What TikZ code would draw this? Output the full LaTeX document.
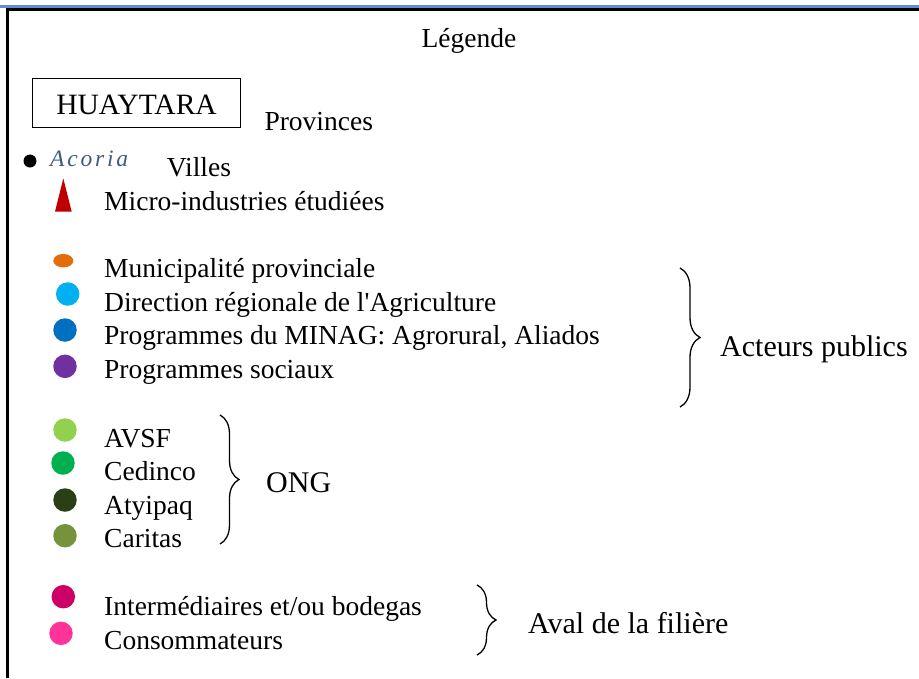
\documentclass[tikz,border=0pt]{standalone}
\usepackage{fontspec}
\setmainfont{Liberation Serif}
\usetikzlibrary{decorations.pathreplacing, shapes.geometric}

\definecolor{frameblue}{HTML}{5B8FD6}
\definecolor{townblue}{HTML}{3F5A80}
\definecolor{microred}{HTML}{C00000}
\definecolor{muniorange}{HTML}{E46C0A}
\definecolor{drablue}{HTML}{00B0F0}
\definecolor{minagblue}{HTML}{0070C0}
\definecolor{socpurple}{HTML}{7030A0}
\definecolor{avsfgreen}{HTML}{92D050}
\definecolor{cedincogreen}{HTML}{00B050}
\definecolor{atyipaqgreen}{HTML}{2A4014}
\definecolor{caritasgreen}{HTML}{76923C}
\definecolor{intercrimson}{HTML}{CC0066}
\definecolor{conspink}{HTML}{FF3399}

\begin{document}
\begin{tikzpicture}[x = 1pt, y = -1pt,
	txt/.style = {anchor = base west, inner sep = 0pt, font = \fontsize{27.5}{30}\selectfont},
	grp/.style = {anchor = base west, inner sep = 0pt, font = \fontsize{30}{34}\selectfont},
	dot/.style = {circle, inner sep = 0pt, minimum size = 23.5pt},
	curly/.style = {decorate, decoration = {brace, amplitude = 20pt}, line width = 1.3pt}]

	\useasboundingbox (0, 0) rectangle (919, 678);

	% Frame
	
	\draw [frameblue, line width = 3pt] (0, 6) -- (919, 6);
	\draw [line width = 2.5pt] (7.5, 678) -- (7.5, 9.5) -- (919, 9.5);

	\node [txt, anchor = base] (title) at (469, 47) {Légende};

	% Provinces, villes, micro-industries
	
	\node [draw, line width = 0.8pt, minimum width = 208pt, minimum height = 49pt, inner sep = 0pt,
		text height = 24pt, text depth = 0pt, font = \fontsize{29.5}{30}\selectfont] (huaytara) at (136.5, 102.8) {HUAYTARA};
	\node [txt] (provinces) at (264.3, 130) {Provinces};
	
	\node [dot, fill = black, minimum size = 13pt] (acoria-dot) at (30, 161) {};
	\node [txt, text = townblue, font = \fontsize{23.5}{26}\itshape\addfontfeature{LetterSpace = 12}] (acoria) at (50, 166) {Acoria};
	\node [txt] (villes) at (166.7, 176) {Villes};
	
	\fill [microred] (63.3, 178.3) -- (71.7, 211.7) -- (55, 211.7) -- cycle;
	\node [txt] (micro) at (104, 210) {Micro-industries étudiées};

	% Acteurs publics
	
	\node [ellipse, inner sep = 0pt, minimum width = 20pt, minimum height = 13.5pt, fill = muniorange] (muni-dot) at (63.3, 260.7) {};
	\node [dot, fill = drablue] (dra-dot) at (67.7, 294) {};
	\node [dot, fill = minagblue] (minag-dot) at (65, 330) {};
	\node [dot, fill = socpurple] (soc-dot) at (65, 366.3) {};
	
	\node [txt] (muni) at (104, 277) {Municipalité provinciale};
	\node [txt] (dra) at (104, 311) {Direction régionale de l\textquotesingle Agriculture};
	\node [txt] (minag) at (104, 344.5) {Programmes du MINAG: Agrorural, Aliados};
	\node [txt] (soc) at (104, 378) {Programmes sociaux};
	
	\coordinate (pub-top) at (680, 268);
	\coordinate (pub-bot) at (680, 407);
	\draw [curly] (pub-top) -- (pub-bot);
	\node [grp] (publics) at (720, 356) {Acteurs publics};

	% ONG
	
	\node [dot, fill = avsfgreen] (avsf-dot) at (65, 430) {};
	\node [dot, fill = cedincogreen] (cedinco-dot) at (63, 463) {};
	\node [dot, fill = atyipaqgreen] (atyipaq-dot) at (65, 500) {};
	\node [dot, fill = caritasgreen] (caritas-dot) at (65, 535.7) {};
	
	\node [txt] (avsf) at (104, 447) {AVSF};
	\node [txt] (cedinco) at (104, 480.5) {Cedinco};
	\node [txt] (atyipaq) at (104, 514) {Atyipaq};
	\node [txt] (caritas) at (104, 547.5) {Caritas};
	
	\coordinate (ong-top) at (220, 415);
	\coordinate (ong-bot) at (220, 544);
	\draw [curly, decoration = {amplitude = 19pt}] (ong-top) -- (ong-bot);
	\node [grp] (ong) at (266, 492) {ONG};

	% Aval de la filiere
	
	\node [dot, fill = intercrimson] (inter-dot) at (63.3, 596.7) {};
	\node [dot, fill = conspink] (cons-dot) at (61, 633.3) {};
	
	\node [txt] (inter) at (104, 615) {Intermédiaires et/ou bodegas};
	\node [txt] (cons) at (104, 649.5) {Consommateurs};
	
	\coordinate (aval-top) at (477, 585);
	\coordinate (aval-bot) at (477, 655);
	\draw [curly, decoration = {amplitude = 19pt}] (aval-top) -- (aval-bot);
	\node [grp] (aval) at (528, 633) {Aval de la filière};

\end{tikzpicture}
\end{document}
